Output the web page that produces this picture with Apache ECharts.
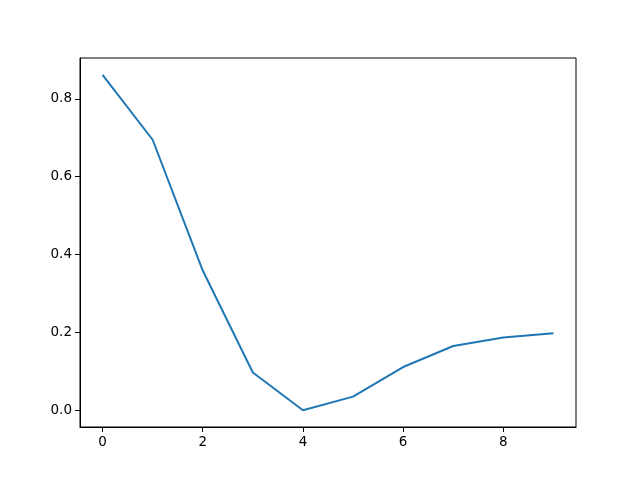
<!DOCTYPE html>
<html>
<head>
<meta charset="utf-8">
<script src="https://cdn.jsdelivr.net/npm/echarts@6/dist/echarts.min.js"></script>
<style>
html, body { margin: 0; padding: 0; background: #fff; }
#chart { width: 640px; height: 480px; }
</style>
</head>
<body>
<div id="chart"></div>
<script>
var xValues = [0, 1, 2, 3, 4, 5, 6, 7, 8, 9];
var yValues = [0.862, 0.695, 0.359, 0.097, 0.0, 0.035, 0.111, 0.165, 0.187, 0.198];
var xTicks = [0, 2, 4, 6, 8];
var yTicks = [0.0, 0.2, 0.4, 0.6, 0.8];

var points = xValues.map(function (x, i) { return [x, yValues[i]]; });

var xMin = -0.45, xMax = 9.45;
var yLo = Math.min.apply(null, yValues), yHi = Math.max.apply(null, yValues);
var yPad = (yHi - yLo) * 0.05;

var font = 'DejaVu Sans';

echarts.init(document.getElementById('chart')).setOption({
    animation: false,
    backgroundColor: '#fff',
    grid: {
        left: 80,
        right: 64,
        top: 58,
        bottom: 53,
        show: true,
        borderColor: '#000',
        borderWidth: 1
    },
    xAxis: {
        type: 'value',
        min: xMin,
        max: xMax,
        splitLine: { show: false },
        axisLine: { show: true, onZero: false, lineStyle: { color: '#000', width: 1 } },
        axisTick: { show: true, length: 5, inside: false, customValues: xTicks, lineStyle: { color: '#000' } },
        axisLabel: {
            customValues: xTicks,
            color: '#000',
            fontFamily: font,
            fontSize: 13.5,
            margin: 8,
            formatter: function (v) { return String(v); }
        }
    },
    yAxis: {
        type: 'value',
        min: yLo - yPad,
        max: yHi + yPad,
        splitLine: { show: false },
        axisLine: { show: true, onZero: false, lineStyle: { color: '#000', width: 1 } },
        axisTick: { show: true, length: 5, inside: false, customValues: yTicks, lineStyle: { color: '#000' } },
        axisLabel: {
            customValues: yTicks,
            color: '#000',
            fontFamily: font,
            fontSize: 13.5,
            margin: 8,
            formatter: function (v) { return v.toFixed(1); }
        }
    },
    series: [{
        type: 'line',
        data: points,
        showSymbol: false,
        symbol: 'none',
        lineStyle: { color: '#1f77b4', width: 2 },
        itemStyle: { color: '#1f77b4' }
    }]
});
</script>
</body>
</html>
